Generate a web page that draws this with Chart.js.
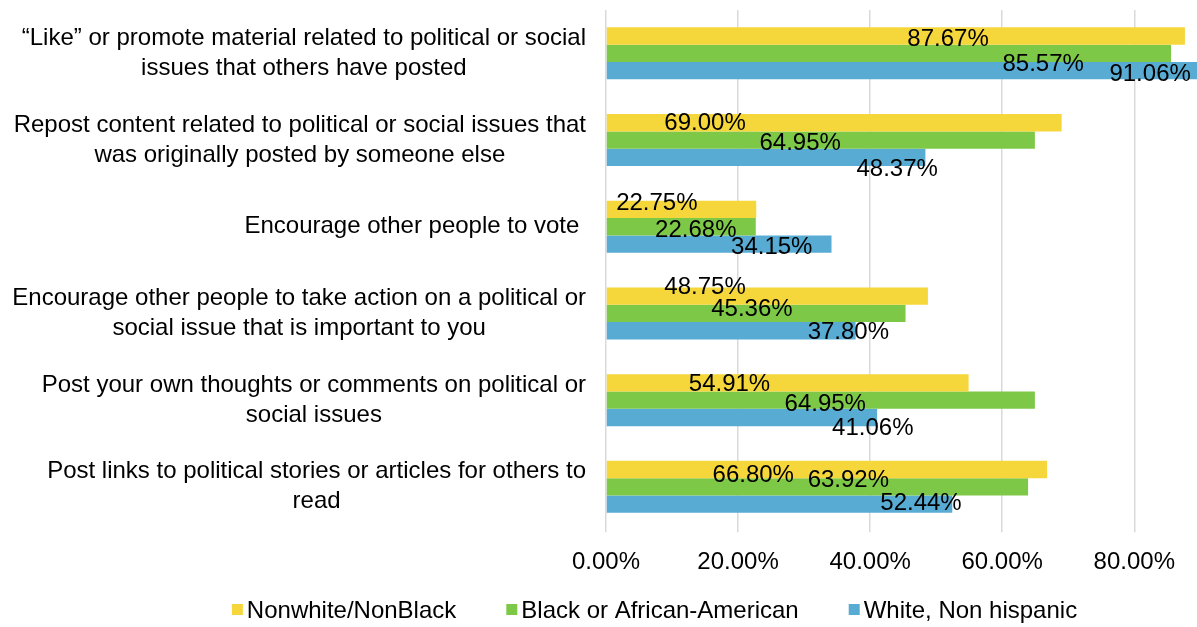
<!DOCTYPE html>
<html>
<head>
<meta charset="utf-8">
<script src="https://cdn.jsdelivr.net/npm/chart.js@4/dist/chart.umd.min.js"></script>
<style>
  html, body { margin: 0; padding: 0; background: #fff; }
  #wrap { width: 1197px; height: 627px; position: relative; }
</style>
</head>
<body>
<div id="wrap"><canvas id="chart"></canvas></div>
<script>
// Categories (each an array of lines as shown in the reference)
const categories = [
    ['\u201cLike\u201d or promote material related to political or social', 'issues that others have posted'],
    ['Repost content related to political or social issues that', 'was originally posted by someone else'],
    ['Encourage other people to vote '],
    ['Encourage other people to take action on a political or', 'social issue that is important to you'],
    ['Post your own thoughts or comments on political or', 'social issues'],
    ['Post links to political stories or articles for others to', 'read']
];

const seriesNames = ['Nonwhite/NonBlack', 'Black or African-American', 'White, Non hispanic'];

// Percent values
const nonwhiteNonblack = [87.67, 69.00, 22.75, 48.75, 54.91, 66.80];
const blackAfricanAmerican = [85.57, 64.95, 22.68, 45.36, 64.95, 63.92];
const whiteNonHispanic = [91.06, 48.37, 34.15, 37.80, 41.06, 52.44];

const xTicks = [0, 20, 40, 60, 80];

// Where each data label sits (the original labels were dragged by hand):
// [x in axis units, vertical nudge as fraction of bar thickness]
const labelPlacement = [
    [[51.8, 0.1], [15.0, -0.1], [7.7, -0.45], [15.0, -0.6], [18.7, 0.0], [22.3, 0.25]],
    [[66.2, 0.5], [29.4, 0.1], [13.6, 0.1], [22.1, -0.35], [33.2, 0.1], [36.7, -0.5]],
    [[82.4, 0.1], [44.1, 0.6], [25.1, 0.05], [36.7, 0.0], [40.4, 0.5], [47.7, -0.15]]
];

const colors = {
    yellow: '#F5D73B',
    green: '#7EC848',
    blue: '#58ABD3'
};

const FONT = '"Liberation Sans", Arial, Helvetica, sans-serif';
const FONT_SIZE = 24;

// Category labels: block right aligned, lines centred inside the block
const categoryLabelPlugin = {
    id: 'categoryLabels',
    afterDraw(chart) {
        const ctx = chart.ctx;
        const yScale = chart.scales.y;
        const right = chart.chartArea.left - 20;
        const lineH = 30;
        ctx.save();
        ctx.font = FONT_SIZE + 'px ' + FONT;
        ctx.fillStyle = '#000';
        ctx.textAlign = 'center';
        ctx.textBaseline = 'middle';
        categories.forEach((lines, i) => {
            const widths = lines.map(l => ctx.measureText(l).width);
            const blockW = Math.max(...widths);
            const cx = right - blockW / 2;
            const cy = yScale.getPixelForValue(i);
            const top = cy - (lines.length - 1) * lineH / 2;
            lines.forEach((l, j) => ctx.fillText(l, cx, top + j * lineH));
        });
        ctx.restore();
    }
};

// Value labels
const valueLabelPlugin = {
    id: 'valueLabels',
    afterDatasetsDraw(chart) {
        const ctx = chart.ctx;
        const xScale = chart.scales.x;
        ctx.save();
        ctx.font = FONT_SIZE + 'px ' + FONT;
        ctx.fillStyle = '#000';
        ctx.textAlign = 'center';
        ctx.textBaseline = 'middle';
        chart.data.datasets.forEach((ds, d) => {
            const meta = chart.getDatasetMeta(d);
            meta.data.forEach((bar, i) => {
                const place = labelPlacement[d][i];
                const x = xScale.getPixelForValue(place[0]);
                const y = bar.y + place[1] * bar.height + 2;
                ctx.fillText(ds.data[i].toFixed(2) + '%', x, y);
            });
        });
        ctx.restore();
    }
};

// Legend drawn by hand: small square hugging the text, Excel style
const legendPlugin = {
    id: 'bottomLegend',
    afterDraw(chart) {
        const ctx = chart.ctx;
        const box = 11, gap = 4, itemGap = 50;
        ctx.save();
        ctx.font = FONT_SIZE + 'px ' + FONT;
        ctx.textBaseline = 'middle';
        ctx.textAlign = 'left';
        const widths = chart.data.datasets.map(ds => box + gap + ctx.measureText(ds.label).width);
        const total = widths.reduce((a, b) => a + b, 0) + itemGap * (widths.length - 1);
        // the legend block sits a little right of the page centre
        let x = (chart.width - total) / 2 + 56;
        const y = 611;
        chart.data.datasets.forEach((ds, d) => {
            ctx.fillStyle = ds.backgroundColor;
            ctx.fillRect(x, y - 7, box, box);
            ctx.fillStyle = '#000';
            ctx.fillText(ds.label, x + box + gap, y);
            x += widths[d] + itemGap;
        });
        ctx.restore();
    }
};

const chart = new Chart(document.getElementById('chart'), {
    type: 'bar',
    data: {
        labels: categories.map(c => c.join(' ')),
        datasets: [
            { label: seriesNames[0], data: nonwhiteNonblack, backgroundColor: colors.yellow },
            { label: seriesNames[1], data: blackAfricanAmerican, backgroundColor: colors.green },
            { label: seriesNames[2], data: whiteNonHispanic, backgroundColor: colors.blue }
        ]
    },
    options: {
        indexAxis: 'y',
        responsive: true,
        maintainAspectRatio: false,
        animation: false,
        layout: { padding: { top: 10, right: 0, left: 0, bottom: 34 } },
        datasets: {
            bar: { categoryPercentage: 0.6, barPercentage: 1.0 }
        },
        scales: {
            x: {
                min: 0,
                max: 89.5,
                afterBuildTicks(scale) {
                    scale.ticks = xTicks.map(v => ({ value: v }));
                },
                grid: {
                    color: '#d9d9d9',
                    lineWidth: 1.5,
                    tickLength: 2
                },
                border: { display: false },
                ticks: {
                    font: { size: FONT_SIZE, family: FONT },
                    color: '#000',
                    padding: 16,
                    maxRotation: 0,
                    callback: v => Number(v).toFixed(2) + '%'
                }
            },
            y: {
                grid: { display: false },
                border: { display: false },
                ticks: { display: false },
                afterFit(scale) { scale.width = 606; }
            }
        },
        plugins: {
            legend: { display: false },
            tooltip: { enabled: false }
        }
    },
    plugins: [categoryLabelPlugin, valueLabelPlugin, legendPlugin]
});
</script>
</body>
</html>
